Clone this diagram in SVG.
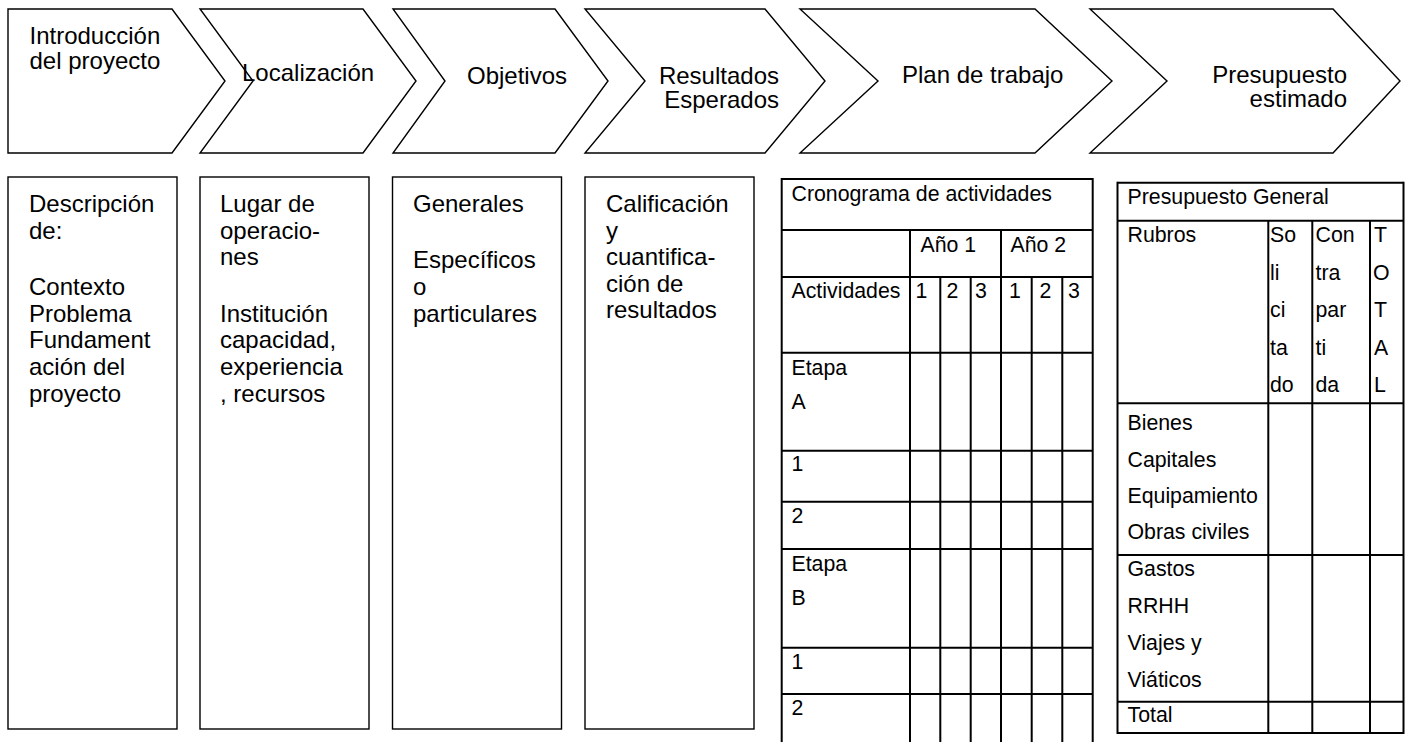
<svg xmlns="http://www.w3.org/2000/svg" width="1405" height="742" viewBox="0 0 1405 742">
<style>
  .bg { fill: #ffffff; }
  .shape { fill: #ffffff; stroke: #000000; stroke-width: 1.4; stroke-linejoin: miter; }
  .grid { stroke: #000000; stroke-width: 2; fill: none; }
  .t24 { font-family: "Liberation Sans", Arial, sans-serif; font-size: 24px; fill: #000000; }
  .t21 { font-family: "Liberation Sans", Arial, sans-serif; font-size: 21.3px; fill: #000000; }
  .end { text-anchor: end; }
</style>
<rect class="bg" x="0" y="0" width="1405" height="742"/>

<g id="chevron-introduccion">
  <polygon class="shape" points="8,9 172,9 225,81 172,153 8,153"/>
  <text class="t24" x="29.5" y="44">Introducción</text>
  <text class="t24" x="29.5" y="69">del proyecto</text>
</g>
<g id="chevron-localizacion">
  <polygon class="shape" points="200,9 363,9 416,81 363,153 200,153 253,81"/>
  <text class="t24" x="242" y="81">Localización</text>
</g>
<g id="chevron-objetivos">
  <polygon class="shape" points="393,9 555,9 608,81 555,153 393,153 445,81"/>
  <text class="t24" x="467" y="84">Objetivos</text>
</g>
<g id="chevron-resultados">
  <polygon class="shape" points="585,9 765,9 825,81 765,153 585,153 645,81"/>
  <text class="t24 end" x="779" y="84">Resultados</text>
  <text class="t24 end" x="779" y="108">Esperados</text>
</g>
<g id="chevron-plan">
  <polygon class="shape" points="800,9 1035,9 1112,81 1035,153 800,153 878,81"/>
  <text class="t24" x="902" y="83">Plan de trabajo</text>
</g>
<g id="chevron-presupuesto">
  <polygon class="shape" points="1090,9 1333,9 1400,81 1333,153 1090,153 1167,81"/>
  <text class="t24 end" x="1347" y="83">Presupuesto</text>
  <text class="t24 end" x="1347" y="107">estimado</text>
</g>

<g id="box-introduccion">
  <rect class="shape" x="8" y="177" width="169" height="552"/>
  <text class="t24" x="29" y="212">Descripción</text>
  <text class="t24" x="29" y="238.5">de:</text>
  <text class="t24" x="29" y="295">Contexto</text>
  <text class="t24" x="29" y="321.7">Problema</text>
  <text class="t24" x="29" y="348.3">Fundament</text>
  <text class="t24" x="29" y="375">ación del</text>
  <text class="t24" x="29" y="401.7">proyecto</text>
</g>
<g id="box-localizacion">
  <rect class="shape" x="200" y="177" width="169" height="552"/>
  <text class="t24" x="220" y="212">Lugar de</text>
  <text class="t24" x="220" y="238.5">operacio-</text>
  <text class="t24" x="220" y="265">nes</text>
  <text class="t24" x="220" y="321.7">Institución</text>
  <text class="t24" x="220" y="348.3">capacidad,</text>
  <text class="t24" x="220" y="375">experiencia</text>
  <text class="t24" x="220" y="401.7">, recursos</text>
</g>
<g id="box-objetivos">
  <rect class="shape" x="392.5" y="177" width="169" height="552"/>
  <text class="t24" x="413" y="212">Generales</text>
  <text class="t24" x="413" y="268.3">Específicos</text>
  <text class="t24" x="413" y="295">o</text>
  <text class="t24" x="413" y="321.7">particulares</text>
</g>
<g id="box-resultados">
  <rect class="shape" x="585" y="177" width="169" height="552"/>
  <text class="t24" x="606" y="212">Calificación</text>
  <text class="t24" x="606" y="238.5">y</text>
  <text class="t24" x="606" y="265">cuantifica-</text>
  <text class="t24" x="606" y="291.7">ción de</text>
  <text class="t24" x="606" y="318.3">resultados</text>
</g>

<g id="table-cronograma">
  <g class="grid">
    <line x1="781.7" y1="179" x2="1092.7" y2="179"/>
    <line x1="781.7" y1="230" x2="1092.7" y2="230"/>
    <line x1="781.7" y1="277" x2="1092.7" y2="277"/>
    <line x1="781.7" y1="352.7" x2="1092.7" y2="352.7"/>
    <line x1="781.7" y1="450.7" x2="1092.7" y2="450.7"/>
    <line x1="781.7" y1="501.7" x2="1092.7" y2="501.7"/>
    <line x1="781.7" y1="549" x2="1092.7" y2="549"/>
    <line x1="781.7" y1="647.7" x2="1092.7" y2="647.7"/>
    <line x1="781.7" y1="694" x2="1092.7" y2="694"/>
    <line x1="781.7" y1="178" x2="781.7" y2="742"/>
    <line x1="1092.7" y1="178" x2="1092.7" y2="742"/>
    <line x1="910" y1="230" x2="910" y2="742"/>
    <line x1="1001" y1="230" x2="1001" y2="742"/>
    <line x1="940.3" y1="277" x2="940.3" y2="742"/>
    <line x1="970.7" y1="277" x2="970.7" y2="742"/>
    <line x1="1031.7" y1="277" x2="1031.7" y2="742"/>
    <line x1="1062.3" y1="277" x2="1062.3" y2="742"/>
  </g>
  <text class="t21" x="791.5" y="200.5">Cronograma de actividades</text>
  <text class="t21" x="920.5" y="251.5">Año 1</text>
  <text class="t21" x="1010.5" y="251.5">Año 2</text>
  <text class="t21" x="791.5" y="298">Actividades</text>
  <text class="t21" x="915.5" y="298">1</text>
  <text class="t21" x="946.5" y="298">2</text>
  <text class="t21" x="975" y="298">3</text>
  <text class="t21" x="1009" y="298">1</text>
  <text class="t21" x="1039.5" y="298">2</text>
  <text class="t21" x="1068" y="298">3</text>
  <text class="t21" x="791.5" y="375">Etapa</text>
  <text class="t21" x="791.5" y="409">A</text>
  <text class="t21" x="791.5" y="471">1</text>
  <text class="t21" x="791.5" y="522.5">2</text>
  <text class="t21" x="791.5" y="570.5">Etapa</text>
  <text class="t21" x="791.5" y="605">B</text>
  <text class="t21" x="791.5" y="668.5">1</text>
  <text class="t21" x="791.5" y="715">2</text>
</g>

<g id="table-presupuesto">
  <g class="grid">
    <line x1="1117.5" y1="182.7" x2="1403.5" y2="182.7"/>
    <line x1="1117.5" y1="220.7" x2="1403.5" y2="220.7"/>
    <line x1="1117.5" y1="403.3" x2="1403.5" y2="403.3"/>
    <line x1="1117.5" y1="555" x2="1403.5" y2="555"/>
    <line x1="1117.5" y1="701.7" x2="1403.5" y2="701.7"/>
    <line x1="1117.5" y1="733" x2="1403.5" y2="733"/>
    <line x1="1117.5" y1="181.7" x2="1117.5" y2="734"/>
    <line x1="1403.5" y1="181.7" x2="1403.5" y2="734"/>
    <line x1="1268.3" y1="220.7" x2="1268.3" y2="733"/>
    <line x1="1312.3" y1="220.7" x2="1312.3" y2="733"/>
    <line x1="1370" y1="220.7" x2="1370" y2="733"/>
  </g>
  <text class="t21" x="1127.5" y="203.5">Presupuesto General</text>
  <text class="t21" x="1127.5" y="242">Rubros</text>
  <text class="t21" x="1270" y="242">So</text>
  <text class="t21" x="1270" y="279.5">li</text>
  <text class="t21" x="1270" y="317">ci</text>
  <text class="t21" x="1270" y="354.5">ta</text>
  <text class="t21" x="1270" y="392">do</text>
  <text class="t21" x="1315.5" y="242">Con</text>
  <text class="t21" x="1315.5" y="279.5">tra</text>
  <text class="t21" x="1315.5" y="317">par</text>
  <text class="t21" x="1315.5" y="354.5">ti</text>
  <text class="t21" x="1315.5" y="392">da</text>
  <text class="t21" x="1374" y="242">T</text>
  <text class="t21" x="1373" y="279.5">O</text>
  <text class="t21" x="1374" y="317">T</text>
  <text class="t21" x="1374" y="354.5">A</text>
  <text class="t21" x="1374" y="392">L</text>
  <text class="t21" x="1127.5" y="430">Bienes</text>
  <text class="t21" x="1127.5" y="467">Capitales</text>
  <text class="t21" x="1127.5" y="503">Equipamiento</text>
  <text class="t21" x="1127.5" y="539">Obras civiles</text>
  <text class="t21" x="1127.5" y="576">Gastos</text>
  <text class="t21" x="1127.5" y="613">RRHH</text>
  <text class="t21" x="1127.5" y="650">Viajes y</text>
  <text class="t21" x="1127.5" y="686.5">Viáticos</text>
  <text class="t21" x="1127.5" y="722">Total</text>
</g>

<g id="connectors"></g>
</svg>
